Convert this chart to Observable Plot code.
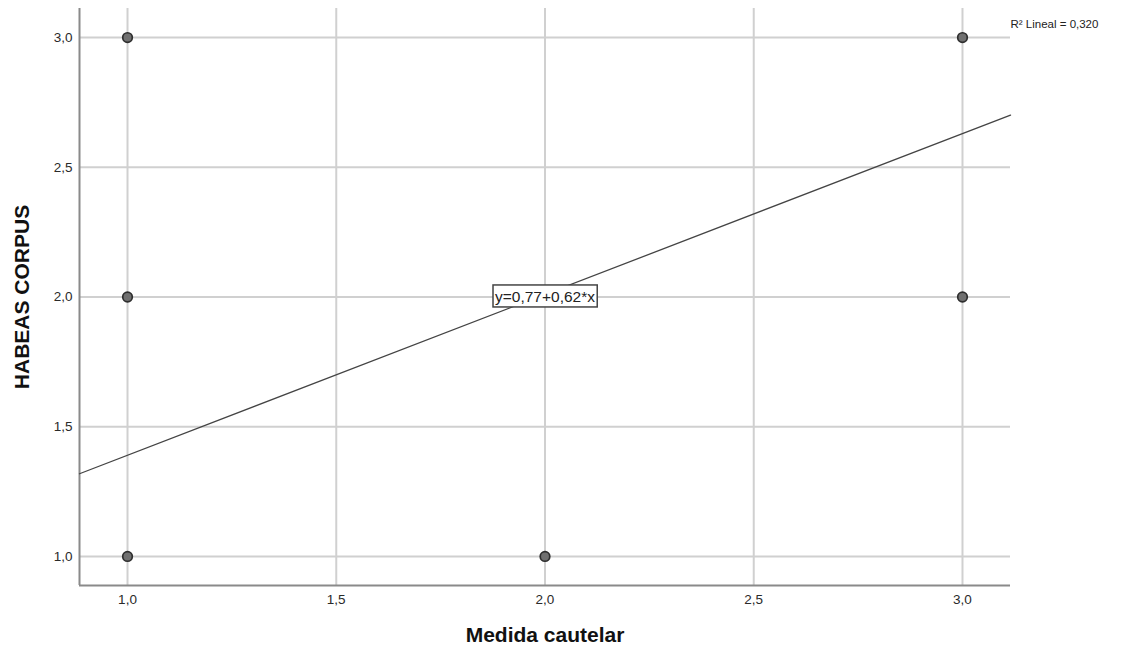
<!DOCTYPE html>
<html><head><meta charset="utf-8">
<script src="https://cdn.jsdelivr.net/npm/d3@7"></script>
<script src="https://cdn.jsdelivr.net/npm/@observablehq/plot@0.6"></script>
<style>
html,body{margin:0;padding:0;background:#fff;}
#chart{width:1127px;height:649px;}
</style></head>
<body><div id="chart"></div>
<script>
// Data
const medidaCautelar = [1, 1, 1, 2, 3, 3];
const habeasCorpus   = [3, 2, 1, 1, 3, 2];
const xTicks = [1.0, 1.5, 2.0, 2.5, 3.0];
const yTicks = [1.0, 1.5, 2.0, 2.5, 3.0];
const intercept = 0.77;
const slope = 0.62;
const r2 = "0,320";
const xDomain = [0.885, 3.115];
const yDomain = [0.888, 3.112];

const points = medidaCautelar.map((x, i) => ({x, y: habeasCorpus[i]}));
const fit = xDomain.map(x => ({x, y: intercept + slope * x}));
const fmt = d => d.toFixed(1).replace(".", ",");
const font = "'Liberation Sans', Arial, sans-serif";
const eqText = `y=${String(intercept).replace(".", ",")}+${String(slope).replace(".", ",")}*x`;

const chart = Plot.plot({
  width: 1127,
  height: 649,
  marginLeft: 79,
  marginRight: 117,
  marginTop: 8,
  marginBottom: 64,
  style: {fontFamily: font, background: "#fff", overflow: "visible"},
  x: {domain: xDomain, axis: null},
  y: {domain: yDomain, axis: null},
  marks: [
    Plot.ruleX(xTicks, {stroke: "#d0d0d0", strokeWidth: 2}),
    Plot.ruleY(yTicks, {stroke: "#d0d0d0", strokeWidth: 2}),
    Plot.ruleX([xDomain[0]], {stroke: "#8a8a8a", strokeWidth: 2}),
    Plot.ruleY([yDomain[0]], {stroke: "#8a8a8a", strokeWidth: 2}),
    Plot.axisX(xTicks, {tickSize: 0, tickPadding: 9, tickFormat: fmt, fontSize: 13.5, fill: "#2a2a2a", anchor: "bottom", label: null}),
    Plot.axisY(yTicks, {tickSize: 0, tickPadding: 7, tickFormat: fmt, fontSize: 13.5, fill: "#2a2a2a", anchor: "left", label: null}),
    Plot.line(fit, {x: "x", y: "y", stroke: "#444", strokeWidth: 1.3}),
    Plot.dot(points, {x: "x", y: "y", r: 4.8, fill: "#707070", stroke: "#2e2e2e", strokeWidth: 1.7}),
    Plot.text([eqText], {x: () => 2.0, y: () => 2.0, fontSize: 15.5, fill: "#222"}),
    Plot.text([`R² Lineal = ${r2}`], {frameAnchor: "top-right", textAnchor: "start", dx: 0, dy: 11, fontSize: 11.5, fill: "#222"}),
    Plot.text(["Medida cautelar"], {frameAnchor: "bottom", textAnchor: "middle", dy: 56, fontSize: 21, fontWeight: "bold", fill: "#111"}),
    Plot.text(["HABEAS CORPUS"], {frameAnchor: "left", textAnchor: "middle", rotate: -90, dx: -57, fontSize: 21, fontWeight: "bold", fill: "#111"})
  ]
});
document.getElementById("chart").appendChild(chart);

// white box with border around the equation label
for (const t of chart.querySelectorAll("text")) {
  if (t.textContent === eqText) {
    const b = t.getBBox();
    const rect = document.createElementNS("http://www.w3.org/2000/svg", "rect");
    rect.setAttribute("x", b.x - 2);
    rect.setAttribute("y", b.y - 3);
    rect.setAttribute("width", b.width + 4);
    rect.setAttribute("height", b.height + 5);
    rect.setAttribute("fill", "#fff");
    rect.setAttribute("stroke", "#444");
    rect.setAttribute("stroke-width", "1.5");
    const tr = t.getAttribute("transform");
    if (tr) rect.setAttribute("transform", tr);
    t.parentNode.insertBefore(rect, t);
  }
}
</script>
</body></html>
